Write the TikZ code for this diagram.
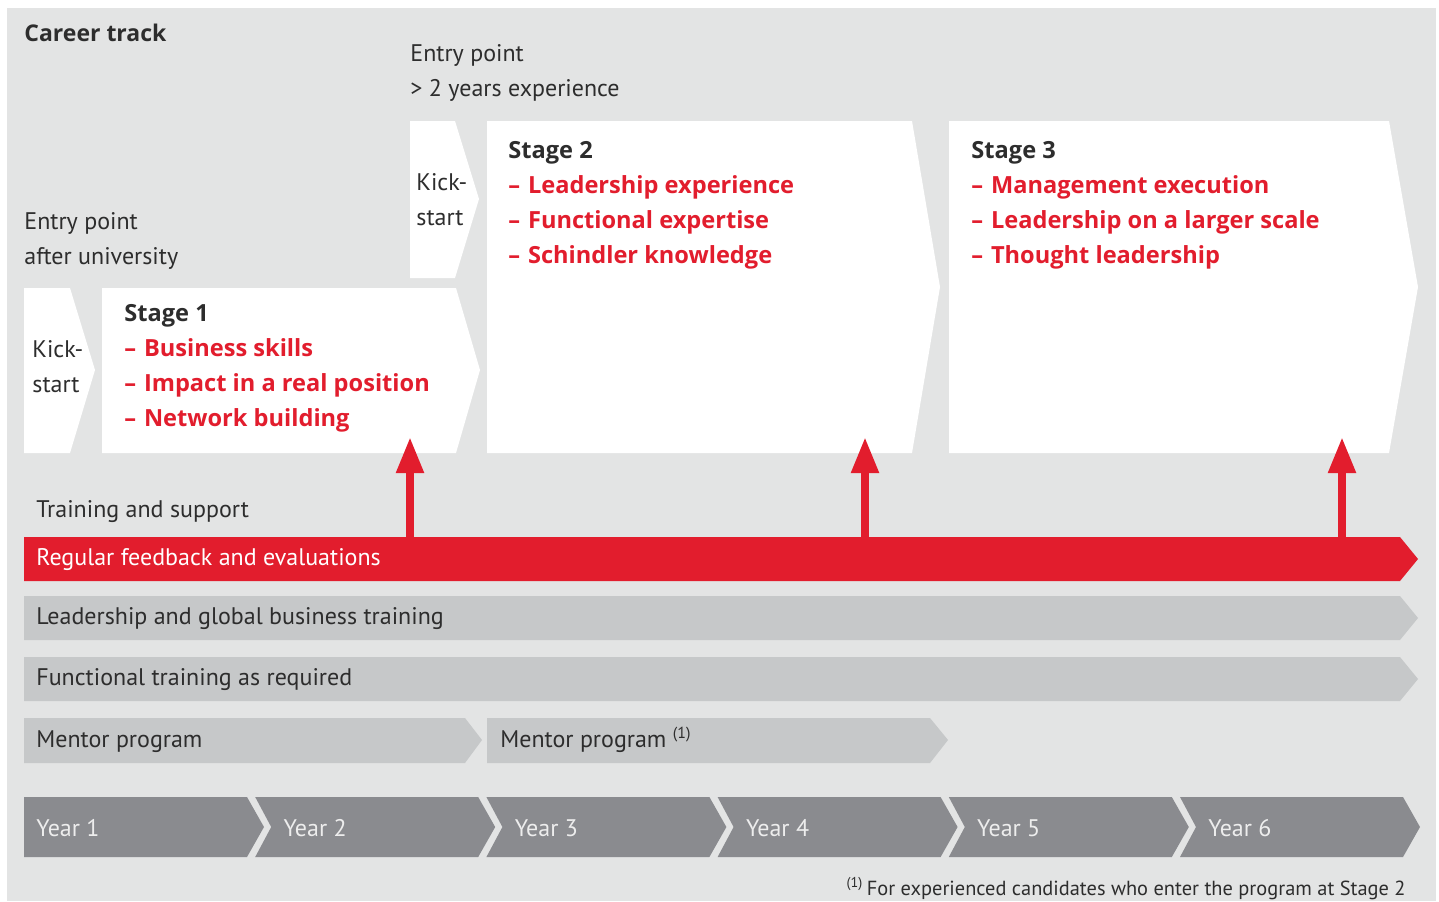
\documentclass[tikz,border=0pt]{standalone}
\usepackage{fontspec}
\setmainfont{PT Sans}
\newfontfamily\boldfont{Open Sans}[Ligatures=TeX]
\usetikzlibrary{arrows.meta}

\definecolor{bgGray}{RGB}{227,228,228}
\definecolor{barGray}{RGB}{198,200,201}
\definecolor{yearGray}{RGB}{138,139,143}
\definecolor{schRed}{RGB}{226,29,45}
\definecolor{txtDark}{RGB}{45,45,45}

\newcommand{\itm}[1]{\textcolor{schRed}{–\,\,#1}}

\begin{document}
\begin{tikzpicture}[x=0.5pt, y=-0.5pt,
	txt/.style={anchor=north west, inner sep=0pt, align=left, text=txtDark, font=\fontsize{12}{17.5}\selectfont},
	stagetxt/.style={txt, font=\fontsize{11.8}{17.5}\selectfont\boldfont\bfseries},
	bartxt/.style={anchor=base west, inner sep=0pt, text=txtDark, font=\fontsize{12}{14}\selectfont},
	uparrow/.style={draw=schRed, line width=4pt, -{Triangle[width=13pt,length=18pt]}}]
	
	\useasboundingbox (0,0) rectangle (1439,901);
	\fill[bgGray] (7,8) rectangle (1436,901);
	
	% stages
	\fill[white] (24,288) -- (70,288) -- (95,370) -- (70,453) -- (24,453) -- cycle;
	\fill[white] (102,288) -- (456,288) -- (480,370) -- (456,453) -- (102,453) -- cycle;
	\fill[white] (410,121) -- (455,121) -- (479,199) -- (455,278) -- (410,278) -- cycle;
	\fill[white] (487,121) -- (912,121) -- (940,287) -- (912,453) -- (487,453) -- cycle;
	\fill[white] (949,121) -- (1389,121) -- (1418,287) -- (1389,453) -- (949,453) -- cycle;
	
	\node[txt, font=\fontsize{11.5}{14}\selectfont\boldfont\bfseries] (title) at (24,24) {Career track};
	\node[txt] (entry2) at (410,44) {Entry point\\> 2 years experience};
	\node[txt] (entry1) at (24,212) {Entry point\\after university};
	\node[txt] (kick2) at (416,173) {Kick-\\start};
	\node[txt] (kick1) at (32,340) {Kick-\\start};
	\node[stagetxt] (stage1) at (124,304) {Stage 1\\\itm{Business skills}\\\itm{Impact in a real position}\\\itm{Network building}};
	\node[stagetxt] (stage2) at (508,141) {Stage 2\\\itm{Leadership experience}\\\itm{Functional expertise}\\\itm{Schindler knowledge}};
	\node[stagetxt] (stage3) at (971,141) {Stage 3\\\itm{Management execution}\\\itm{Leadership on a larger scale}\\\itm{Thought leadership}};
	
	% training bars
	\node[bartxt] (support) at (36,517) {Training and support};
	\fill[schRed] (24,537) -- (1400,537) -- (1418,559) -- (1400,581) -- (24,581) -- cycle;
	\fill[barGray] (24,596) -- (1400,596) -- (1418,618) -- (1400,640) -- (24,640) -- cycle;
	\fill[barGray] (24,657) -- (1400,657) -- (1418,679) -- (1400,701) -- (24,701) -- cycle;
	\fill[barGray] (24,718) -- (465,718) -- (482,740) -- (465,763) -- (24,763) -- cycle;
	\fill[barGray] (487,718) -- (930,718) -- (948,740) -- (930,763) -- (487,763) -- cycle;
	\node[bartxt, text=white] (feedback) at (36,565) {Regular feedback and evaluations};
	\node[bartxt] (leader) at (36,624) {Leadership and global business training};
	\node[bartxt] (functional) at (36,685) {Functional training as required};
	\node[bartxt] (mentor1) at (36,747) {Mentor program};
	\node[bartxt] (mentor2) at (500,747) {Mentor program \textsuperscript{(1)}};
	
	\foreach \x/\n in {410/1, 865/2, 1342/3} {
		\coordinate (fb\n) at (\x,560);
		\coordinate (st\n) at (\x,437);
		\draw[uparrow] (fb\n) -- (st\n);
	}
	
	% years
	\foreach \i/\d in {1/0, 2/16, 3/16, 4/16, 5/16, 6/16} {
		\pgfmathsetmacro{\xl}{24+(\i-1)*231.2}
		\fill[yearGray] (\xl,797) -- ++(223,0) -- ++(17,30) -- ++(-17,30) -- (\xl,857) -- ++(\d,-30) -- cycle;
		\node[bartxt, text=white!93!black] (year\i) at ({\xl+12+\d},836) {Year \i};
	}
	
	\node[anchor=base east, inner sep=0pt, text=txtDark, font=\fontsize{10.2}{12}\selectfont] (note) at (1406,895) {\textsuperscript{(1)}\,For experienced candidates who enter the program at Stage 2};
	
\end{tikzpicture}
\end{document}
